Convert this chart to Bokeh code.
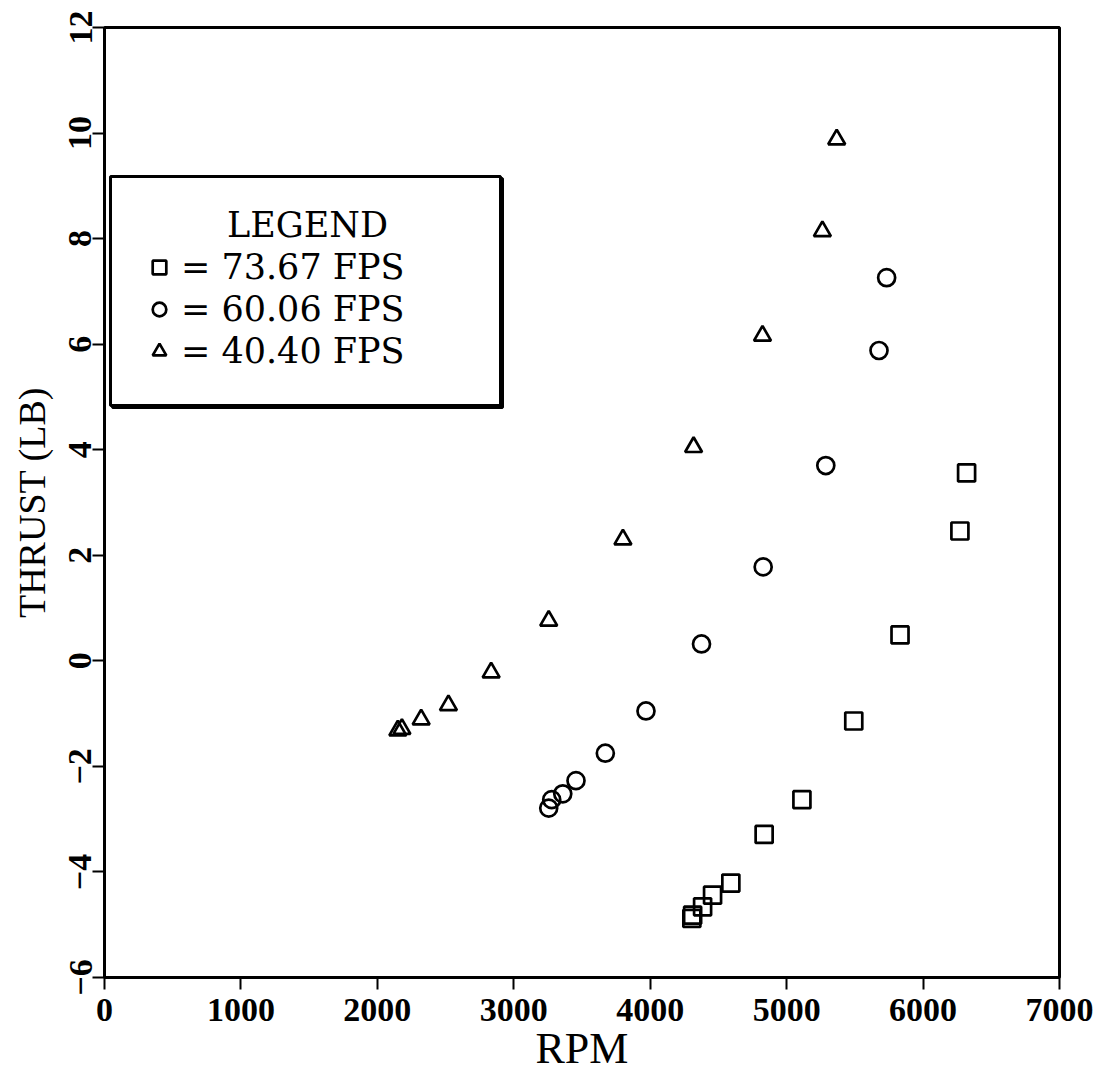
import math
from bokeh.plotting import figure
from bokeh.models import Legend, LegendItem, Label, FixedTicker, Range1d, BoxAnnotation
from bokeh.embed import file_html
from bokeh.resources import INLINE

# ---- data ----
rpm_7367 = [4305, 4311, 4384, 4457, 4591, 4835, 5112, 5492, 5831, 6270, 6319]
thrust_7367 = [-4.88, -4.82, -4.66, -4.44, -4.21, -3.29, -2.63, -1.14, 0.49, 2.46, 3.56]

rpm_6006 = [3256, 3278, 3359, 3456, 3671, 3969, 4376, 4828, 5287, 5677, 5733]
thrust_6006 = [-2.79, -2.63, -2.52, -2.27, -1.75, -0.95, 0.32, 1.78, 3.70, 5.88, 7.26]

rpm_4040 = [2150, 2180, 2321, 2521, 2834, 3256, 3800, 4318, 4823, 5262, 5367]
thrust_4040 = [-1.32, -1.29, -1.11, -0.84, -0.22, 0.76, 2.30, 4.05, 6.16, 8.14, 9.88]

x_ticks = [0, 1000, 2000, 3000, 4000, 5000, 6000, 7000]
y_ticks = [-6, -4, -2, 0, 2, 4, 6, 8, 10, 12]

legend_title = "LEGEND"
legend_labels = ["= 73.67 FPS", "= 60.06 FPS", "= 40.40 FPS"]

FONT = "Liberation Serif"
LFONT = "DejaVu Serif"

p = figure(width=1098, height=1075, output_backend="svg", toolbar_location=None,
           x_range=Range1d(0, 7000), y_range=Range1d(-6, 12),
           min_border_left=104, min_border_right=39, min_border_top=27, min_border_bottom=96)

p.xgrid.visible = False
p.ygrid.visible = False
p.outline_line_color = "black"
p.outline_line_width = 3

p.xaxis.ticker = FixedTicker(ticks=x_ticks)
p.yaxis.ticker = FixedTicker(ticks=y_ticks)
for ax in (p.xaxis[0], p.yaxis[0]):
    ax.axis_line_width = 3
    ax.axis_line_color = "black"
    ax.major_tick_out = 12
    ax.major_tick_in = 0
    ax.major_tick_line_width = 2
    ax.minor_tick_line_color = None
    ax.major_label_text_font = FONT
    ax.major_label_text_font_style = "bold"
    ax.major_label_text_font_size = "34px"
    ax.major_label_text_color = "black"
    ax.axis_label_text_font = FONT
    ax.axis_label_text_font_style = "normal"
    ax.axis_label_text_color = "black"

p.xaxis.major_label_standoff = 9
p.xaxis.axis_label_standoff = 0
p.yaxis.major_label_standoff = 1
p.yaxis.axis_label_standoff = 14

p.xaxis.axis_label = "RPM"
p.xaxis.axis_label_text_font_size = "44px"
p.yaxis.axis_label = "THRUST (LB)"
p.yaxis.axis_label_text_font_size = "38px"
p.yaxis.major_label_orientation = "parallel"

r_sq = p.scatter(rpm_7367, thrust_7367, marker="square", size=17,
                 fill_color=None, line_color="black", line_width=2.7)
r_ci = p.scatter(rpm_6006, thrust_6006, marker="circle", size=17,
                 fill_color=None, line_color="black", line_width=2.7)
r_tr = p.scatter(rpm_4040, thrust_4040, marker="triangle", size=17,
                 fill_color=None, line_color="black", line_width=2.7)

# legend frame (with a slightly heavier right/bottom edge)
shadow = BoxAnnotation(left=8, right=398, bottom=570, top=799,
                       left_units="screen", right_units="screen",
                       top_units="screen", bottom_units="screen",
                       fill_alpha=0.0, line_color="black", line_width=3, line_alpha=1.0)
p.add_layout(shadow)
box = BoxAnnotation(left=6, right=396, bottom=572, top=801,
                    left_units="screen", right_units="screen",
                    top_units="screen", bottom_units="screen",
                    fill_color="white", fill_alpha=1.0,
                    line_color="black", line_width=3, line_alpha=1.0)
p.add_layout(box)

title_lbl = Label(x=203, y=753, x_units="screen", y_units="screen", text=legend_title,
                  text_font=LFONT, text_font_size="35px", text_color="black",
                  text_align="center", text_baseline="middle", level="overlay")
p.add_layout(title_lbl)

renderers = [r_sq, r_ci, r_tr]
row_bottoms = [690, 648, 606]
for lab, rend, yb in zip(legend_labels, renderers, row_bottoms):
    lg = Legend(
        items=[LegendItem(label=lab, renderers=[rend])],
        location=(38, yb),
        label_text_font=LFONT,
        label_text_font_size="35px",
        label_text_color="black",
        label_standoff=5,
        glyph_width=34,
        glyph_height=34,
        spacing=0,
        padding=0,
        margin=0,
        border_line_color=None,
        background_fill_alpha=0.0,
        level="overlay",
    )
    p.add_layout(lg)

open("out.html", "w").write(file_html(p, INLINE))
